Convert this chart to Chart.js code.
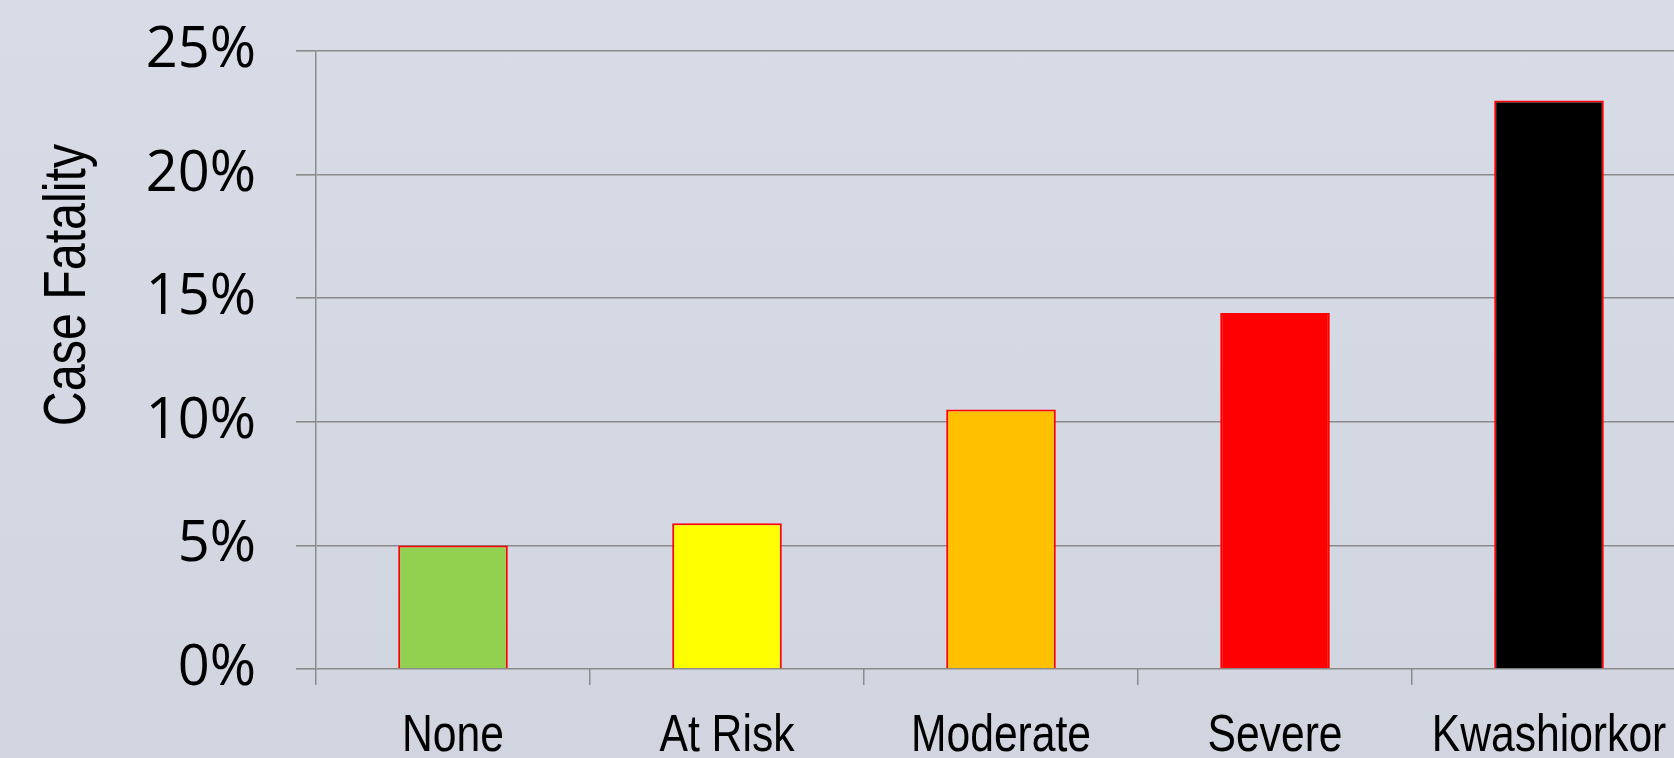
<!DOCTYPE html>
<html>
<head>
<meta charset="utf-8">
<title>Case Fatality by Nutritional Status</title>
<script src="https://cdn.jsdelivr.net/npm/chart.js@4.4.1/dist/chart.umd.min.js"></script>
<style>
  html, body {
    margin: 0;
    padding: 0;
    width: 1674px;
    height: 758px;
    overflow: hidden;
    background: linear-gradient(to bottom, #d8dce6 0%, #d1d5e0 100%);
  }
  canvas { display: block; }
</style>
</head>
<body>
<canvas id="chart" width="1700" height="758"></canvas>
<script>
// Nutritional status categories and case fatality (%)
const categories = ['None', 'At Risk', 'Moderate', 'Severe', 'Kwashiorkor'];
const caseFatality = [5.0, 5.9, 10.5, 14.4, 23.0];
const barColors = ['#92d050', '#ffff00', '#ffc000', '#ff0000', '#000000'];
const yTicks = [0, 5, 10, 15, 20, 25];
const yTitle = 'Case Fatality';

const labelFont = '"Liberation Sans", Arial, sans-serif';
const tickFont = '"Open Sans", "Noto Sans", sans-serif';
const narrowing = 0.82; // horizontal squeeze for the condensed label face

// Condensed category labels under the x axis, centred on each category
const categoryLabels = {
  id: 'categoryLabels',
  afterDraw(chart) {
    const ctx = chart.ctx;
    const xScale = chart.scales.x;
    ctx.save();
    ctx.font = '52px ' + labelFont;
    ctx.fillStyle = '#000000';
    ctx.textAlign = 'center';
    ctx.textBaseline = 'alphabetic';
    categories.forEach((label, i) => {
      const x = xScale.getPixelForTick(i);
      ctx.save();
      ctx.translate(x, 751);
      ctx.scale(narrowing, 1);
      ctx.fillText(label, 0, 0);
      ctx.restore();
    });
    ctx.restore();
  }
};

// Rotated y-axis caption, placed toward the upper part of the axis
const yCaption = {
  id: 'yCaption',
  afterDraw(chart) {
    const ctx = chart.ctx;
    ctx.save();
    ctx.translate(85, 285);
    ctx.rotate(-Math.PI / 2);
    ctx.scale(narrowing, 1);
    ctx.font = '59px ' + labelFont;
    ctx.fillStyle = '#000000';
    ctx.textAlign = 'center';
    ctx.textBaseline = 'alphabetic';
    ctx.fillText(yTitle, 0, 0);
    ctx.restore();
  }
};

new Chart(document.getElementById('chart'), {
  type: 'bar',
  data: {
    labels: categories,
    datasets: [{
      data: caseFatality,
      backgroundColor: barColors,
      borderColor: '#ff0000',
      borderWidth: 2,
      categoryPercentage: 1.0,
      barPercentage: 0.4
    }]
  },
  plugins: [categoryLabels, yCaption],
  options: {
    responsive: false,
    devicePixelRatio: 1,
    animation: false,
    layout: { padding: { top: 51, right: 14, left: 0, bottom: 73 } },
    plugins: {
      legend: { display: false },
      tooltip: { enabled: false }
    },
    scales: {
      x: {
        offset: true,
        grid: {
          display: true,
          drawOnChartArea: false,
          drawTicks: true,
          tickLength: 16,
          color: '#8c8c8c',
          lineWidth: 1.5
        },
        border: { display: false },
        ticks: { display: false }
      },
      y: {
        min: 0,
        max: 25,
        afterBuildTicks(scale) {
          scale.ticks = yTicks.map(v => ({ value: v }));
        },
        afterFit(scale) {
          scale.width = 316;
          scale.paddingTop = 0;
          scale.paddingBottom = 0;
        },
        grid: {
          color: '#8a8a8a',
          lineWidth: 1.6,
          drawTicks: true,
          tickLength: 20
        },
        border: { display: true, color: '#8c8c8c', width: 1.5 },
        ticks: {
          color: '#000000',
          font: { family: tickFont, size: 56 },
          padding: 40,
          callback: v => v + '%'
        }
      }
    }
  }
});
</script>
</body>
</html>
